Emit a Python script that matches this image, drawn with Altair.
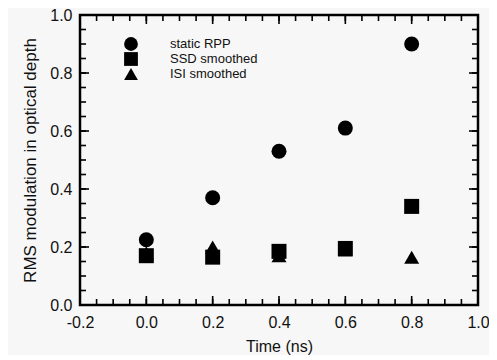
import altair as alt
import pandas as pd
import numpy as np

# Data
time_ns = [0.0, 0.2, 0.4, 0.6, 0.8]
static_rpp = [0.225, 0.37, 0.53, 0.61, 0.90]
ssd_smoothed = [0.17, 0.165, 0.185, 0.195, 0.34]
isi_smoothed = [0.18, 0.20, 0.17, 0.19, 0.165]
series_names = ["static RPP", "SSD smoothed", "ISI smoothed"]
series_shapes = ["circle", "square", "triangle-up"]

x_major = [-0.2, 0.0, 0.2, 0.4, 0.6, 0.8, 1.0]
x_minor = [round(v, 2) for v in np.arange(-0.2, 1.0001, 0.05)]
y_major = [0.0, 0.2, 0.4, 0.6, 0.8, 1.0]
y_minor = [round(v, 2) for v in np.arange(0.0, 1.0001, 0.05)]

rows = []
for name, vals in zip(series_names, [static_rpp, ssd_smoothed, isi_smoothed]):
    for t, v in zip(time_ns, vals):
        rows.append({"time": t, "rms": v, "series": name})
df = pd.DataFrame(rows)

W, H = 398, 290
FONT = "Liberation Sans"
LABEL_EXPR = "datum.value < 0 ? '-' + format(-datum.value, '.1f') : format(datum.value, '.1f')"

xscale = alt.Scale(domain=[-0.2, 1.0], nice=False, zero=False)
yscale = alt.Scale(domain=[0.0, 1.0], nice=False, zero=False)

x_axis = alt.Axis(values=x_major, labelExpr=LABEL_EXPR, title="Time (ns)", ticks=False,
                  domain=False, grid=False, labelPadding=9, titlePadding=8,
                  labelFontSize=16, titleFontSize=16, labelColor="#111",
                  titleColor="#111", labelFont=FONT, titleFont=FONT,
                  titleFontWeight="normal", labelFlush=False)
y_axis = alt.Axis(values=y_major, labelExpr=LABEL_EXPR,
                  title="RMS modulation in optical depth", ticks=False,
                  domain=False, grid=False, labelPadding=8, titlePadding=10,
                  labelFontSize=16, titleFontSize=17, labelColor="#111",
                  titleColor="#111", labelFont=FONT, titleFont=FONT,
                  titleFontWeight="normal", labelFlush=False)

points = alt.Chart(df).mark_point(filled=True, color="black", opacity=1, size=225).encode(
    x=alt.X("time:Q", scale=xscale, axis=x_axis),
    y=alt.Y("rms:Q", scale=yscale, axis=y_axis),
    shape=alt.Shape("series:N",
                    scale=alt.Scale(domain=series_names, range=series_shapes),
                    legend=alt.Legend(title=None, orient="none", legendX=44, legendY=22,
                                      symbolSize=190, symbolFillColor="black",
                                      symbolStrokeColor="black", symbolStrokeWidth=0,
                                      labelFontSize=13, labelFont=FONT, labelColor="#111",
                                      labelOffset=32, rowPadding=1, padding=0)),
)


def tick_layer(vals, channel, side, length, width):
    d = pd.DataFrame({"v": vals})
    base = alt.Chart(d).mark_rule(color="black", strokeWidth=width)
    if channel == "x":
        enc = dict(x=alt.X("v:Q", scale=xscale, axis=x_axis))
        if side == "bottom":
            enc.update(y=alt.value(H), y2=alt.value(H - length))
        else:
            enc.update(y=alt.value(0), y2=alt.value(length))
    else:
        enc = dict(y=alt.Y("v:Q", scale=yscale, axis=y_axis))
        if side == "left":
            enc.update(x=alt.value(0), x2=alt.value(length))
        else:
            enc.update(x=alt.value(W), x2=alt.value(W - length))
    return base.encode(**enc)


ticks = []
for side in ["bottom", "top"]:
    ticks.append(tick_layer(x_minor, "x", side, 6, 1.6))
    ticks.append(tick_layer(x_major, "x", side, 9, 1.6))
for side in ["left", "right"]:
    ticks.append(tick_layer(y_minor, "y", side, 6, 1.6))
    ticks.append(tick_layer(y_major, "y", side, 9, 1.6))

chart = alt.layer(points, *ticks).resolve_scale(x="shared", y="shared").properties(
    width=W, height=H,
    padding={"left": 72, "top": 7, "right": 11, "bottom": 50},
    autosize="none",
    background="#f7f7f7",
).configure_view(stroke="black", strokeWidth=2.5)

chart.save("out.html", embed_options={"renderer": "svg", "actions": False})
